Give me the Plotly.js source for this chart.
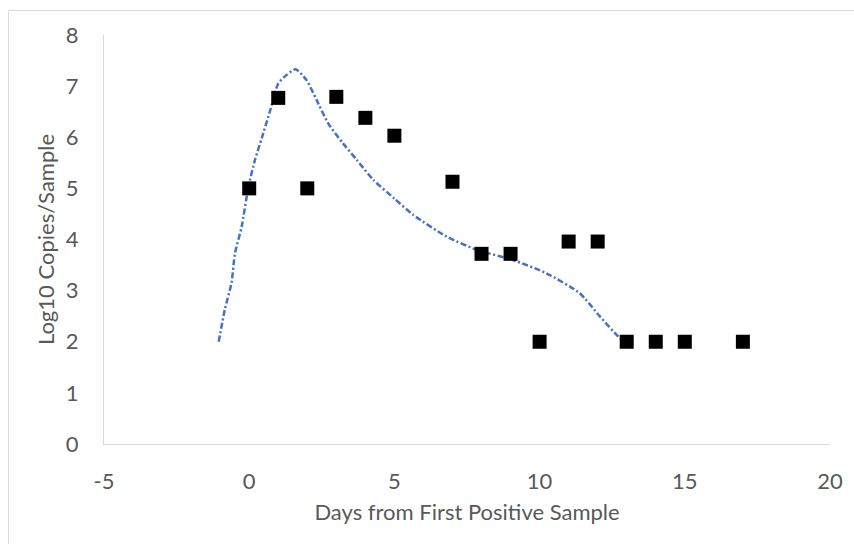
<!DOCTYPE html>
<html>
<head>
<meta charset="utf-8">
<script src="https://cdn.plot.ly/plotly-3.0.1.min.js"></script>
<style>
html,body{margin:0;padding:0;background:#fff;}
#chart{width:854px;height:544px;}
</style>
</head>
<body>
<div id="chart"></div>
<script>
// Observed samples
var sampleDays = [0, 1, 2, 3, 4, 5, 7, 8, 9, 10, 11, 12, 13, 14, 15, 17];
var sampleLog10 = [5.0, 6.77, 5.0, 6.79, 6.38, 6.03, 5.13, 3.72, 3.72, 2.0, 3.96, 3.96, 2.0, 2.0, 2.0, 2.0];

// Model curve
var curveDays = [-1.05, -0.84, -0.61, -0.49, -0.26, -0.03, 0.2, 0.43, 0.71, 1.0, 1.29, 1.6, 1.97, 2.32, 2.72, 3.23, 3.7, 4.27, 5.0, 5.65, 6.79, 7.82, 9.08, 10.23, 11.38, 12.07, 12.76, 12.95];
var curveLog10 = [2.0, 2.63, 3.15, 3.73, 4.25, 5.02, 5.56, 5.98, 6.5, 7.05, 7.22, 7.33, 7.12, 6.73, 6.27, 5.88, 5.56, 5.17, 4.8, 4.48, 4.06, 3.8, 3.6, 3.34, 2.95, 2.5, 2.07, 1.99];

var xTicks = [-5, 0, 5, 10, 15, 20];
var yTicks = [0, 1, 2, 3, 4, 5, 6, 7, 8];

var fontFam = 'Lato, "Open Sans", sans-serif';
var tickColor = '#595959';
var fs = 22;

var traces = [
  {
    x: curveDays, y: curveLog10, type: 'scatter', mode: 'lines',
    line: {color: '#4472c4', width: 2.5, dash: '6px,2.5px,2px,2.5px', shape: 'spline', smoothing: 0.6},
    hoverinfo: 'skip', showlegend: false
  },
  {
    x: sampleDays, y: sampleLog10, type: 'scatter', mode: 'markers',
    marker: {symbol: 'square', size: 14, color: '#000000'},
    showlegend: false
  }
];

var W = 854, H = 544;
var mL = 104, mR = 23.5, mT = 35, mB = 99.5;
var pw = W - mL - mR, ph = H - mT - mB;

var layout = {
  width: W, height: H,
  margin: {l: mL, r: mR, t: mT, b: mB, pad: 0},
  paper_bgcolor: '#ffffff', plot_bgcolor: '#ffffff',
  font: {family: fontFam, size: fs, color: tickColor},
  showlegend: false,
  xaxis: {
    range: [-5, 20], tickvals: xTicks, ticktext: xTicks.map(String),
    showgrid: false, zeroline: false, showline: true, linecolor: '#d9d9d9', linewidth: 1,
    ticks: '', ticklabelstandoff: 18,
    tickfont: {family: fontFam, size: fs, color: tickColor},
    title: {text: 'Days from First Positive Sample', font: {family: fontFam, size: fs, color: tickColor}, standoff: 11}
  },
  yaxis: {
    range: [0, 8], tickvals: yTicks, ticktext: yTicks.map(String),
    showgrid: false, zeroline: false, showline: true, linecolor: '#d9d9d9', linewidth: 1,
    ticks: '', ticklabelstandoff: 20,
    tickfont: {family: fontFam, size: fs, color: tickColor},
    title: {text: 'Log10 Copies/Sample', font: {family: fontFam, size: fs, color: tickColor}, standoff: 5}
  },
  shapes: [
    {type: 'line', xref: 'paper', yref: 'paper',
     x0: (8.5 - mL) / pw, x1: (W + 10 - mL) / pw,
     y0: (H - mB - 10.5) / ph, y1: (H - mB - 10.5) / ph,
     line: {color: '#d9d9d9', width: 1}},
    {type: 'line', xref: 'paper', yref: 'paper',
     x0: (8.5 - mL) / pw, x1: (8.5 - mL) / pw,
     y0: (H - mB - 10.5) / ph, y1: (H - mB - H - 10) / ph,
     line: {color: '#d9d9d9', width: 1}}
  ]
};

Plotly.newPlot('chart', traces, layout, {displayModeBar: false, staticPlot: true});
</script>
</body>
</html>
